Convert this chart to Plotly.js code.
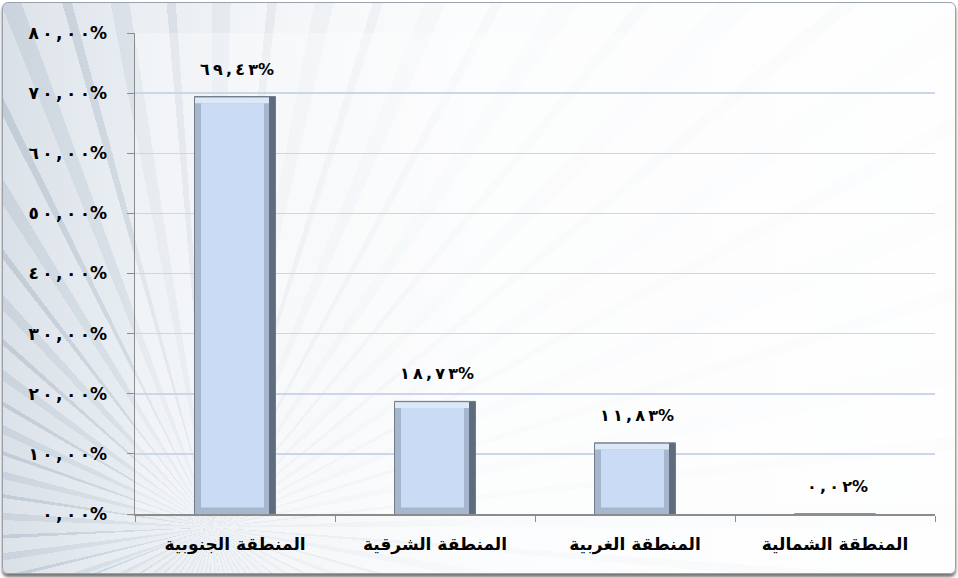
<!DOCTYPE html>
<html><head><meta charset="utf-8">
<script src="https://cdn.plot.ly/plotly-3.0.1.min.js"></script>
<style>
html,body{margin:0;padding:0;background:#fff;}
#wrap{position:absolute;left:2px;top:2px;width:952px;height:570px;border:1px solid #9aa3ad;border-radius:6px;overflow:hidden;
box-shadow:0 3px 3px rgba(60,60,60,0.7);
background:
 linear-gradient(90deg, rgba(200,210,220,0.55) 0%, rgba(225,232,238,0.6) 12%, rgba(245,247,249,0.8) 30%, rgba(252,253,254,0.92) 50%, rgba(255,255,255,0.95) 100%),
 repeating-conic-gradient(from 250deg at 22% 92%, #cdd5de 0deg 2deg, #f4f6f8 2deg 6deg, #b9c3ce 6deg 7deg, #eef1f4 7deg 11deg);
}
#chart{position:absolute;left:-3px;top:-3px;width:958px;height:578px;}
</style></head>
<body>
<div id="wrap"><div id="chart"></div></div>
<script>
const categories = ['المنطقة الجنوبية','المنطقة الشرقية','المنطقة الغربية','المنطقة الشمالية'];
const values = [69.43, 18.73, 11.83, 0.02];
const tickValues = [0,10,20,30,40,50,60,70,80];

const SP = '\u2009';
const fmt = v => '\u202D' + v.toFixed(2).replace(/[0-9]/g, d => '٠١٢٣٤٥٦٧٨٩'[+d]).replace('.', ',').split('').join(SP) + '%' + '\u202C';
const tickText = tickValues.map(fmt);
const labels = values.map(fmt);
const FONT = 'DejaVu Sans, Arial';

const EDGE = 1.1; // bevel thickness in axis units
const base = {type:'bar', x:categories, hoverinfo:'none', marker:{line:{width:0}}};
const t1 = Object.assign({}, base, {y:values, width:0.405, offset:-0.2025,
  marker:{color:'#5f6c7e', line:{color:'#707c8c', width:1}}});
const t2 = Object.assign({}, base, {y:values.map(v => Math.max(v - 0.15, 0)), width:0.37, offset:-0.2,
  marker:{color:'#a6b6cc', line:{width:0}}});
const t3 = Object.assign({}, base, {y:values.map(v => v > 2*EDGE ? EDGE - 0.15 : 0),
  base:values.map(v => v > 2*EDGE ? v - EDGE : 0), width:0.37, offset:-0.2,
  marker:{color:'#dde8f7', line:{width:0}}});
const t4 = Object.assign({}, base, {y:values.map(v => Math.max(v - 2*EDGE, 0)),
  base:values.map(v => v > 2*EDGE ? EDGE : 0), width:0.315, offset:-0.17,
  marker:{color:'#cadcf5', line:{width:0}}});

const annotations = categories.map((c,i) => ({
  x:c, y:values[i], text:labels[i], showarrow:false, yanchor:'bottom', yshift:16, xshift:2,
  font:{family:FONT, size:16, color:'#000', weight:'bold'}
}));
const layout = {
  width:958, height:578,
  margin:{l:135, r:23, t:33, b:64},
  paper_bgcolor:'rgba(0,0,0,0)', plot_bgcolor:'rgba(255,255,255,0.3)',
  barmode:'overlay', showlegend:false, annotations,
  font:{family:FONT, color:'#000'},
  xaxis:{type:'category', showline:true, linecolor:'#8c8c8c', linewidth:1.5,
    ticks:'outside', tickson:'boundaries', ticklen:6, tickcolor:'#8c8c8c', ticklabelstandoff:14,
    tickfont:{size:17, weight:'bold', family:FONT}, showgrid:false},
  yaxis:{range:[0,80], tickvals:tickValues, ticktext:tickText, showline:true, linecolor:'#8c8c8c', linewidth:1.5,
    ticks:'outside', ticklen:7, tickcolor:'#8c8c8c', ticklabelstandoff:16, gridcolor:'#cbd7e8', gridwidth:1.5, zeroline:false,
    tickfont:{size:17, weight:'bold', family:FONT}}
};
Plotly.newPlot('chart',[t1,t2,t3,t4],layout,{displayModeBar:false, staticPlot:true});
</script>
</body></html>
